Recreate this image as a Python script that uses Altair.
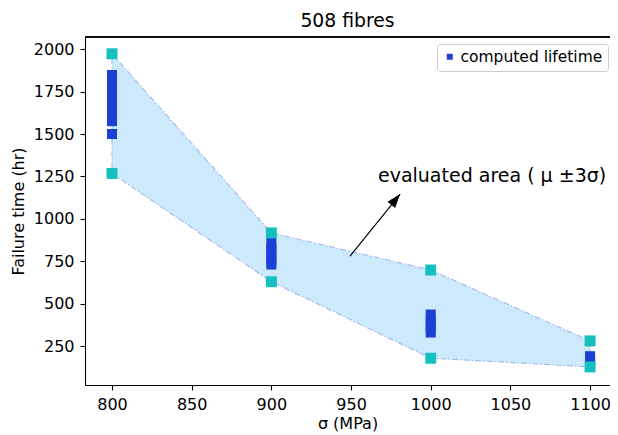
import altair as alt
import pandas as pd

# ---- data ----
stress = [800, 900, 1000, 1100]
upper = [1972, 918, 700, 283]   # mu + 3 sigma
lower = [1268, 631, 181, 130]   # mu - 3 sigma

life_800 = [1500, 1575, 1600, 1625, 1650, 1675, 1700, 1725, 1750, 1775, 1800, 1825, 1847]
life_900 = [732, 755, 780, 805, 830, 859]
life_1000 = [332, 355, 380, 405, 438]
life_1100 = [160, 175, 193]

x_ticks = [800, 850, 900, 950, 1000, 1050, 1100]
y_ticks = [250, 500, 750, 1000, 1250, 1500, 1750, 2000]

band = pd.DataFrame({"stress": stress, "upper": upper, "lower": lower})
bounds = pd.DataFrame({"stress": stress + stress, "value": upper + lower})
life_rows = []
for s, vals in zip(stress, [life_800, life_900, life_1000, life_1100]):
    for v in vals:
        life_rows.append({"stress": s, "life": v, "series": "computed lifetime"})
life = pd.DataFrame(life_rows)

arrow = pd.DataFrame({"x": [949.4], "y": [782.0], "x2": [980.8], "y2": [1147.0]})
label = pd.DataFrame({"x": [966.9], "y": [1253.0], "t": ["evaluated area ( μ ±3σ)"]})

BLUE = "#1c3fd6"
CYAN = "#14bfbf"
FONT = "DejaVu Sans"
W, H = 525, 348

XS = alt.Scale(domain=[783.05, 1112.5], nice=False, zero=False)
YS = alt.Scale(domain=[23.5, 2070.6], nice=False, zero=False)

xaxis = alt.Axis(values=x_ticks, title="σ (MPa)", grid=False, tickSize=5,
                 labelPadding=6, titlePadding=3, format="d")
yaxis = alt.Axis(values=y_ticks, title="Failure time (hr)", grid=False, tickSize=5,
                 labelPadding=6, titlePadding=7, format="d")

area = alt.Chart(band).mark_area(
    color="#cde9fc", opacity=1, stroke="#a8bcef", strokeWidth=1.2,
    strokeDash=[6, 2, 1.5, 2]
).encode(
    x=alt.X("stress:Q", scale=XS, axis=xaxis),
    y=alt.Y("upper:Q", scale=YS, axis=yaxis),
    y2="lower:Q",
)

pts = alt.Chart(life).mark_point(shape="square", filled=True, size=100, opacity=1).encode(
    x=alt.X("stress:Q", scale=XS, axis=xaxis),
    y=alt.Y("life:Q", scale=YS, axis=yaxis),
    color=alt.Color("series:N",
                    scale=alt.Scale(domain=["computed lifetime"], range=[BLUE]),
                    legend=alt.Legend(orient="none", legendX=352, legendY=7, title=None,
                                      symbolType="square", symbolSize=36, symbolStrokeWidth=0,
                                      labelFontSize=15.5, labelFont=FONT, labelColor="black",
                                      padding=5, strokeColor="#cccccc", fillColor="white",
                                      cornerRadius=3, labelOffset=3, symbolOffset=0)),
)

bnd = alt.Chart(bounds).mark_point(shape="square", filled=True, size=120, color=CYAN, opacity=1).encode(
    x=alt.X("stress:Q", scale=XS, axis=xaxis),
    y=alt.Y("value:Q", scale=YS, axis=yaxis),
)

top_spine = alt.Chart(band).mark_rule(color="black", strokeWidth=1.1).encode(
    x=alt.value(0), x2=alt.value(W), y=alt.value(0)
)

arr_line = alt.Chart(arrow).mark_rule(color="black", strokeWidth=1.2).encode(
    x=alt.X("x:Q", scale=XS, axis=xaxis), y=alt.Y("y:Q", scale=YS, axis=yaxis),
    x2="x2:Q", y2="y2:Q",
)
arr_head = alt.Chart(arrow).mark_point(
    shape="M0,0L0.7,2L-0.7,2Z", filled=True, color="black", size=196, angle=39, opacity=1
).encode(
    x=alt.X("x2:Q", scale=XS, axis=xaxis), y=alt.Y("y2:Q", scale=YS, axis=yaxis),
)

txt = alt.Chart(label).mark_text(align="left", baseline="middle", fontSize=19,
                                  font=FONT, color="black").encode(
    x=alt.X("x:Q", scale=XS, axis=xaxis), y=alt.Y("y:Q", scale=YS, axis=yaxis), text="t:N"
)

chart = alt.layer(area, pts, bnd, top_spine, arr_line, arr_head, txt).properties(
    width=W, height=H,
    background="white",
    title=alt.TitleParams("508 fibres", fontSize=18.8, fontWeight="normal", font=FONT,
                          anchor="middle", offset=6, color="black"),
    autosize=alt.AutoSizeParams(type="none"),
    padding={"left": 77, "top": 29, "right": 0, "bottom": 48},
).configure_view(strokeWidth=0).configure_axis(
    labelFont=FONT, titleFont=FONT, labelFontSize=16, titleFontSize=16,
    labelColor="black", titleColor="black", titleFontWeight="normal",
    domainColor="black", tickColor="black", domainWidth=1.1, tickWidth=1.1,
)

chart.save("out.html", embed_options={"renderer": "svg", "actions": False})
